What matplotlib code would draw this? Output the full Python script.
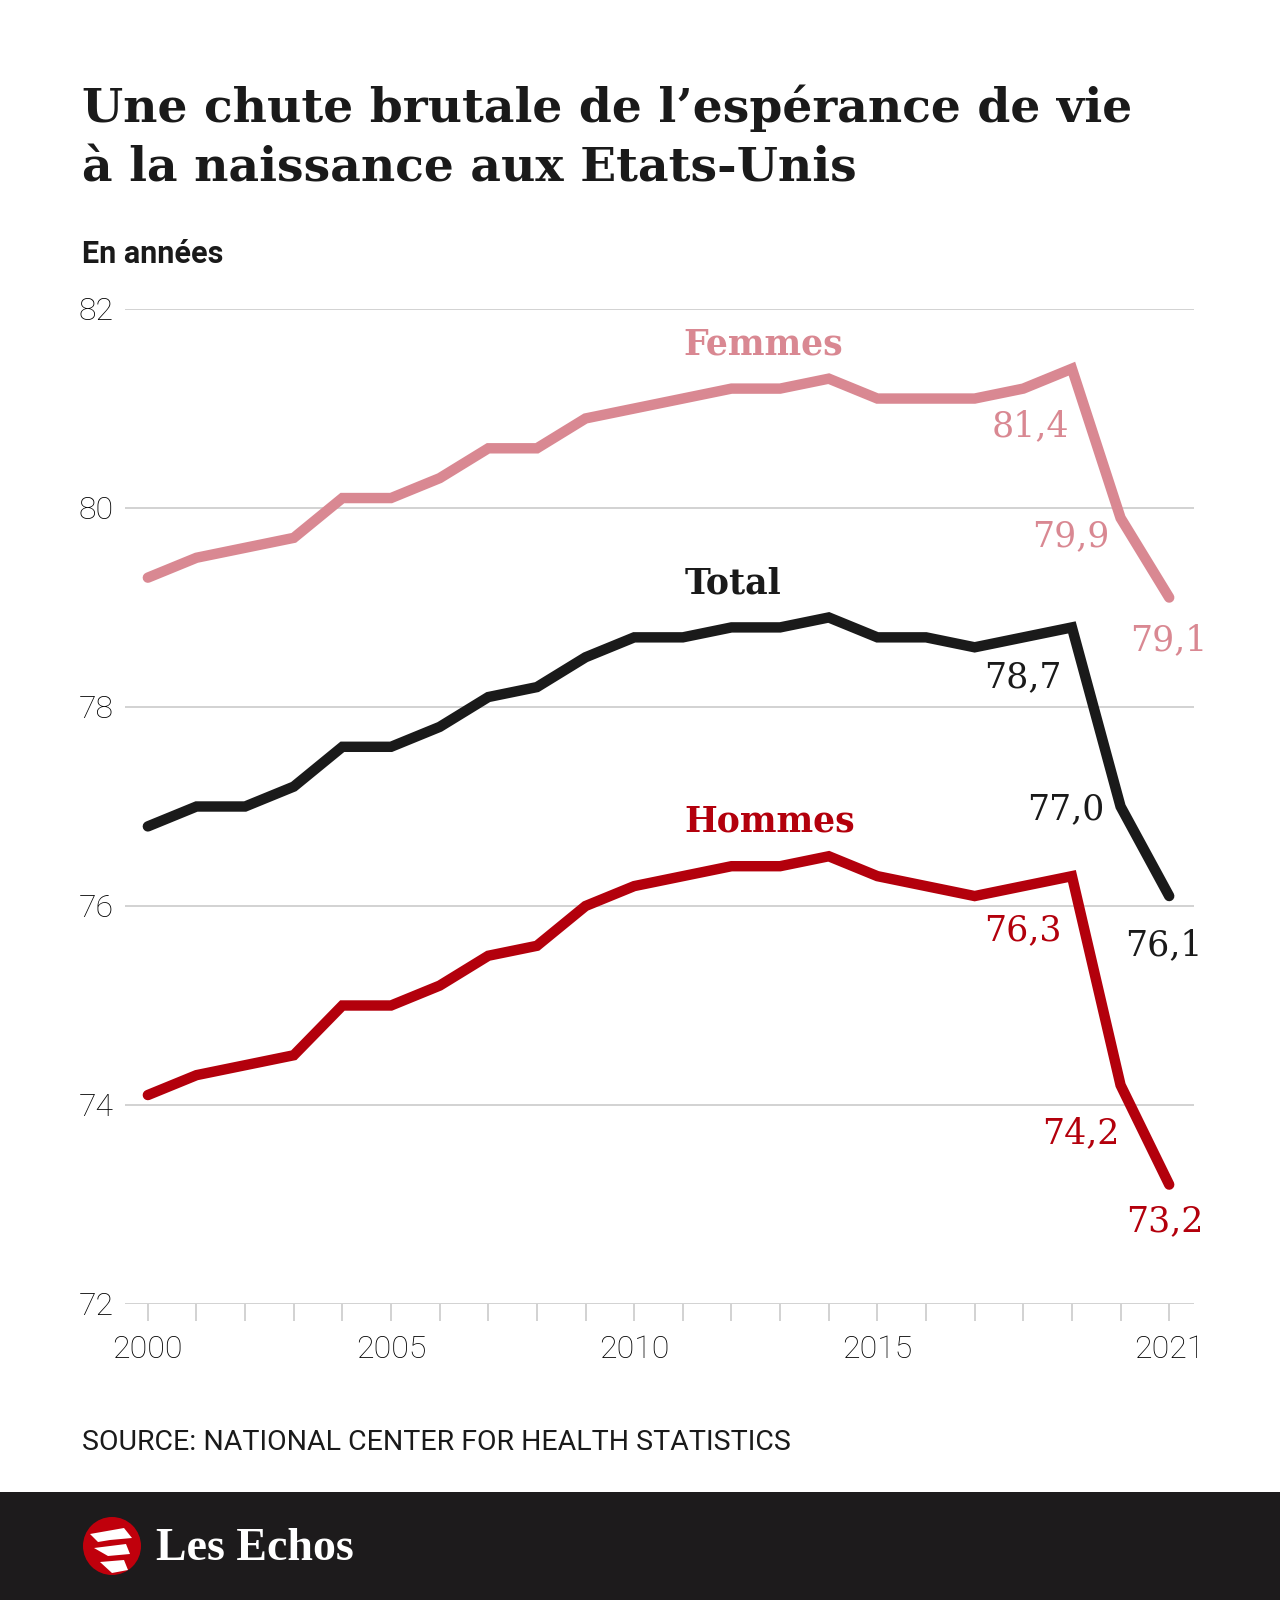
import matplotlib
matplotlib.use("Agg")
import matplotlib.pyplot as plt
from matplotlib.patches import Circle, Polygon

# data
years = list(range(2000, 2022))
femmes = [79.3, 79.5, 79.6, 79.7, 80.1, 80.1, 80.3, 80.6, 80.6, 80.9, 81.0,
          81.1, 81.2, 81.2, 81.3, 81.1, 81.1, 81.1, 81.2, 81.4, 79.9, 79.1]
total = [76.8, 77.0, 77.0, 77.2, 77.6, 77.6, 77.8, 78.1, 78.2, 78.5, 78.7,
         78.7, 78.8, 78.8, 78.9, 78.7, 78.7, 78.6, 78.7, 78.8, 77.0, 76.1]
hommes = [74.1, 74.3, 74.4, 74.5, 75.0, 75.0, 75.2, 75.5, 75.6, 76.0, 76.2,
          76.3, 76.4, 76.4, 76.5, 76.3, 76.2, 76.1, 76.2, 76.3, 74.2, 73.2]
y_ticks = [72, 74, 76, 78, 80, 82]
x_labels = {2000: "2000", 2005: "2005", 2010: "2010", 2015: "2015", 2021: "2021"}

# value labels: (series, year, text)
value_labels = [
    ("femmes", 2019, "81,4"), ("femmes", 2020, "79,9"), ("femmes", 2021, "79,1"),
    ("total", 2019, "78,7"), ("total", 2020, "77,0"), ("total", 2021, "76,1"),
    ("hommes", 2019, "76,3"), ("hommes", 2020, "74,2"), ("hommes", 2021, "73,2"),
]

PINK = "#d98892"
BLACK = "#1a1a1a"
RED = "#b3000c"
GRID = "#cfcfcf"

series = {
    "femmes": (femmes, PINK, "Femmes", (2012.65, 81.64)),
    "total": (total, BLACK, "Total", (2012.04, 79.24)),
    "hommes": (hommes, RED, "Hommes", (2012.78, 76.85)),
}

# label offsets in pixels (dx, dy-down, ha)
offsets = {
    ("femmes", 2019): (-3, 57, "right"), ("femmes", 2020): (-11, 18, "right"),
    ("femmes", 2021): (0, 43, "center"),
    ("total", 2019): (-10, 50, "right"), ("total", 2020): (-16, 3, "right"),
    ("total", 2021): (-5, 49, "center"),
    ("hommes", 2019): (-10, 54, "right"), ("hommes", 2020): (-1, 48, "right"),
    ("hommes", 2021): (-4, 37, "center"),
}

W, H = 1280, 1600
fig = plt.figure(figsize=(W / 100, H / 100), dpi=100)
fig.patch.set_facecolor("white")

SERIF = ["DejaVu Serif"]
SANS = ["Roboto", "DejaVu Sans"]

# title
fig.text(82 / W, 1 - 122 / H, "Une chute brutale de l\u2019espérance de vie",
         fontsize=34, fontweight="bold", family=SERIF, color="#1a1a1a")
fig.text(82 / W, 1 - 181 / H, "à la naissance aux Etats-Unis",
         fontsize=34, fontweight="bold", family=SERIF, color="#1a1a1a")
fig.text(82 / W, 1 - 263 / H, "En années", fontsize=22, fontweight="bold",
         family=SANS, color="#1a1a1a")

ax = fig.add_axes([125 / W, 1 - 1304 / H, (1194 - 125) / W, (1304 - 309) / H])
ax.set_xlim(1999.53, 2021.51)
ax.set_ylim(72, 82)

for yt in y_ticks:
    ax.axhline(yt, color=GRID, lw=1.3, zorder=1)

for key, (vals, col, name, pos) in series.items():
    ax.plot(years, vals, color=col, lw=7.5, solid_joinstyle="miter",
            solid_capstyle="round", zorder=3, clip_on=False)
    ax.text(pos[0], pos[1], name, color=col, fontsize=25, fontweight="bold",
            family=SERIF, ha="center", va="center")

for key, yr, txt in value_labels:
    vals, col = series[key][0], series[key][1]
    dx, dy, ha = offsets[(key, yr)]
    ax.annotate(txt, (yr, vals[years.index(yr)]), xytext=(dx * 0.72, -dy * 0.72),
                textcoords="offset points", ha=ha, va="center", color=col,
                fontsize=25, family=SERIF)

for s in ax.spines.values():
    s.set_visible(False)
ax.set_yticks(y_ticks)
ax.set_yticklabels([str(v) for v in y_ticks])
ax.tick_params(axis="y", length=0, pad=8, labelsize=23, labelcolor="#000000")
ax.set_xticks(years)
ax.set_xticklabels([x_labels.get(y, "") for y in years])
ax.tick_params(axis="x", length=12, width=1.3, color=GRID, pad=10,
               labelsize=23, labelcolor="#000000")
for lab in ax.get_xticklabels() + ax.get_yticklabels():
    lab.set_family(SANS)
    lab.set_fontweight("light")
ax.set_facecolor("none")

fig.text(82 / W, 1 - 1450 / H, "SOURCE: NATIONAL CENTER FOR HEALTH STATISTICS",
         fontsize=20.5, family=SANS, color="#1a1a1a")

# footer band with logo
lax = fig.add_axes([0, 0, 1, 108 / H])
lax.set_xlim(0, W)
lax.set_ylim(0, 108)
lax.set_facecolor("#1d1b1c")
lax.set_xticks([])
lax.set_yticks([])
for s in lax.spines.values():
    s.set_visible(False)
lax.add_patch(Circle((112, 54), 29, facecolor="#c0000c", edgecolor="none"))
lax.add_patch(Polygon([(90, 66), (124, 72), (132, 62), (110, 60), (98, 58)],
                      facecolor="white", edgecolor="none"))
lax.add_patch(Polygon([(94, 52), (126, 56), (130, 46), (108, 44)],
                      facecolor="white", edgecolor="none"))
lax.add_patch(Polygon([(100, 38), (124, 40), (128, 30), (112, 27)],
                      facecolor="white", edgecolor="none"))
lax.text(156, 40, "Les Echos", fontsize=33, fontweight="bold",
         family=["Liberation Serif"], color="white", ha="left", va="baseline")

fig.savefig("out.png", dpi=100, facecolor="white")
